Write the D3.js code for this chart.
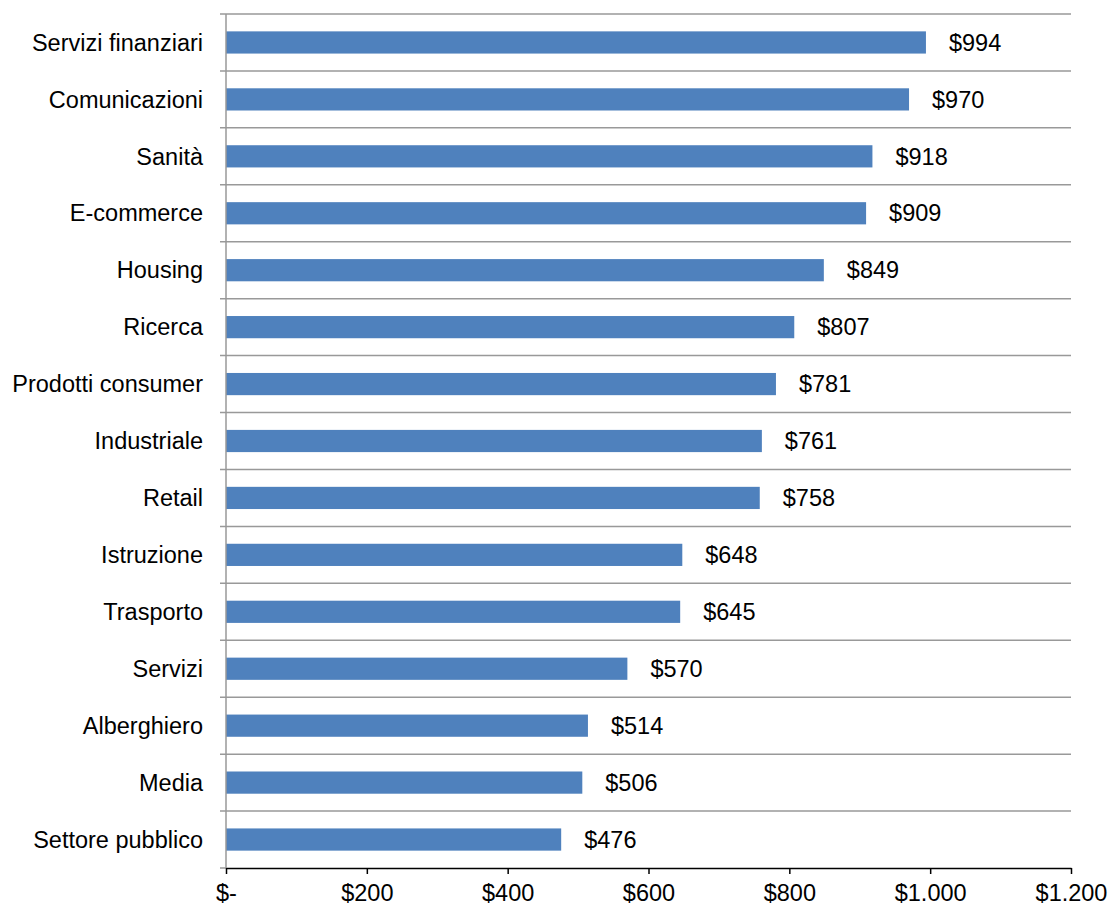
<!DOCTYPE html>
<html>
<head>
<meta charset="utf-8">
<script src="https://cdn.jsdelivr.net/npm/d3@7"></script>
<style>
  body { margin: 0; background: #fff; }
</style>
</head>
<body>
<div id="chart"></div>
<script>
// Categories top to bottom and their values
const categories = ['Servizi finanziari', 'Comunicazioni', 'Sanità', 'E-commerce', 'Housing', 'Ricerca',
  'Prodotti consumer', 'Industriale', 'Retail', 'Istruzione', 'Trasporto', 'Servizi', 'Alberghiero',
  'Media', 'Settore pubblico'];
const values = [994, 970, 918, 909, 849, 807, 781, 761, 758, 648, 645, 570, 514, 506, 476];
const xTicks = [0, 200, 400, 600, 800, 1000, 1200];
const xTickLabels = ['$-', '$200', '$400', '$600', '$800', '$1.000', '$1.200'];

const font = "'Liberation Sans', Arial, sans-serif";
const fontSize = '23.5px';
const W = 1112, H = 905;
const margin = { top: 14, right: 41, bottom: 37, left: 226 };
const w = W - margin.left - margin.right;
const h = H - margin.top - margin.bottom;

const svg = d3.select('#chart').append('svg')
  .attr('width', W).attr('height', H)
  .style('font-family', font);
const g = svg.append('g').attr('transform', `translate(${margin.left},${margin.top})`);

const x = d3.scaleLinear().domain([0, 1200]).range([0, w]);
const y = d3.scaleBand().domain(categories).range([0, h]).paddingInner(0.61).paddingOuter(0.305);

// Horizontal grid lines at category boundaries
const bounds = categories.map((c, i) => i * y.step());
g.append('g').selectAll('line')
  .data(bounds)
  .join('line')
  .attr('x1', -6).attr('x2', w)
  .attr('y1', d => d).attr('y2', d => d)
  .attr('stroke', '#999').attr('stroke-width', 1.5);

// Bars
g.selectAll('.bar')
  .data(categories)
  .join('rect')
  .attr('x', 0)
  .attr('y', d => y(d))
  .attr('width', (d, i) => x(values[i]))
  .attr('height', y.bandwidth())
  .attr('fill', '#4F81BD');

// Value labels
g.selectAll('.val')
  .data(categories)
  .join('text')
  .attr('x', (d, i) => x(values[i]) + 23)
  .attr('y', d => y(d) + y.bandwidth() / 2)
  .attr('dy', '0.35em')
  .attr('font-size', fontSize)
  .attr('fill', '#000')
  .text((d, i) => '$' + values[i]);

// Left axis line
g.append('line')
  .attr('x1', 0).attr('x2', 0).attr('y1', 0).attr('y2', h)
  .attr('stroke', '#999').attr('stroke-width', 1.5);
g.append('line')
  .attr('x1', -6).attr('x2', 0).attr('y1', h).attr('y2', h)
  .attr('stroke', '#999').attr('stroke-width', 1.5);

// Category labels
g.selectAll('.cat')
  .data(categories)
  .join('text')
  .attr('x', -23)
  .attr('y', d => y(d) + y.bandwidth() / 2)
  .attr('dy', '0.35em')
  .attr('text-anchor', 'end')
  .attr('font-size', fontSize)
  .attr('fill', '#000')
  .text(d => d);

// Bottom axis
const xAxis = g.append('g')
  .attr('transform', `translate(0,${h})`)
  .call(d3.axisBottom(x).tickValues(xTicks).tickSize(6).tickSizeOuter(0)
    .tickFormat((d, i) => xTickLabels[i]));
xAxis.select('.domain').attr('stroke', '#000').attr('stroke-width', 1.5);
xAxis.selectAll('.tick line').attr('stroke', '#000').attr('stroke-width', 1.5);
xAxis.selectAll('text')
  .attr('font-family', font)
  .attr('font-size', fontSize)
  .attr('fill', '#000')
  .attr('dy', '1.0em');
</script>
</body>
</html>
